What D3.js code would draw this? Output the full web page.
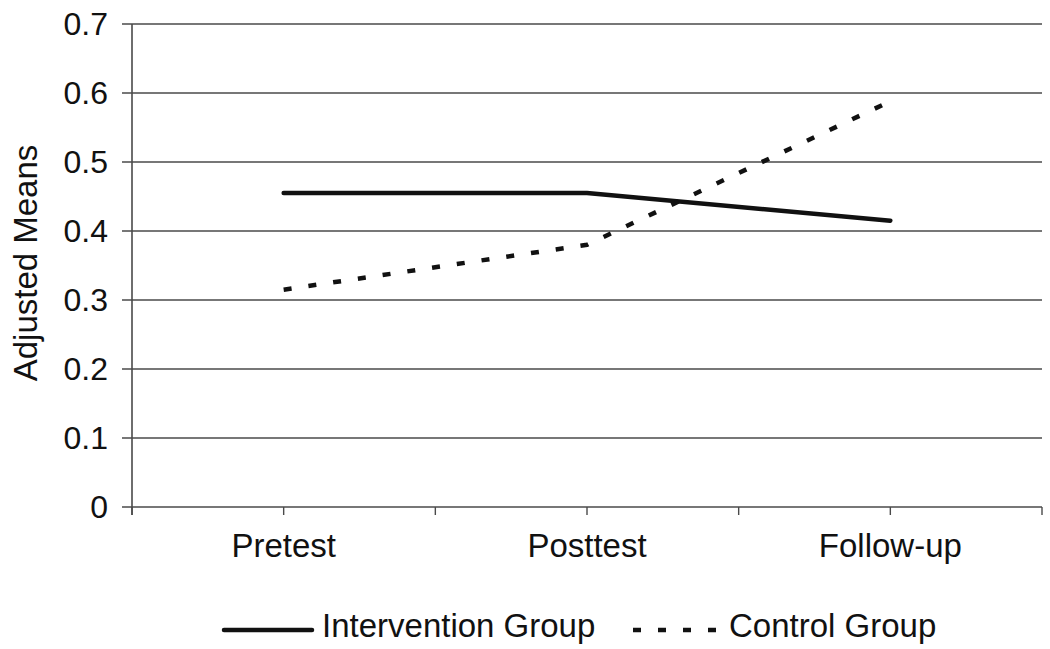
<!DOCTYPE html>
<html><head><meta charset="utf-8">
<script src="https://cdn.jsdelivr.net/npm/d3@7"></script>
<style>body{margin:0;background:#fff}svg{display:block}text{font-family:"Liberation Sans",Arial,sans-serif;fill:#111}</style>
</head><body><svg id="c" width="1050" height="649"></svg>
<script>
const categories = ["Pretest", "Posttest", "Follow-up"];
const intervention = [0.455, 0.455, 0.415];
const control = [0.315, 0.38, 0.588];
const yTicks = [0, 0.1, 0.2, 0.3, 0.4, 0.5, 0.6, 0.7];
const seriesNames = ["Intervention Group", "Control Group"];

const svg = d3.select("#c");
const L = 132, R = 1042, T = 24, B = 507;
const y = d3.scaleLinear().domain([0, 0.7]).range([B, T]);
const xb = d3.scaleBand().domain(categories).range([L, R]).paddingInner(0).paddingOuter(0);
const cx = c => xb(c) + xb.bandwidth() / 2;

const gridC = "#4a4a4a";
svg.append("g").selectAll("line").data(yTicks).join("line")
  .attr("x1", L - 10).attr("x2", R).attr("y1", d => y(d)).attr("y2", d => y(d))
  .attr("stroke", gridC).attr("stroke-width", 1.4);
svg.append("g").selectAll("text").data(yTicks).join("text")
  .attr("x", 108).attr("y", d => y(d) + 11).attr("text-anchor", "end")
  .attr("font-size", 32).text(d => d === 0 ? "0" : d3.format(".1f")(d));
svg.append("line").attr("x1", L).attr("x2", L).attr("y1", T).attr("y2", B + 8)
  .attr("stroke", gridC).attr("stroke-width", 1.6);
const xt = d3.scaleLinear().domain([0, 6]).range([L, R]);
svg.append("g").selectAll("line").data(d3.range(0, 7)).join("line")
  .attr("x1", d => xt(d)).attr("x2", d => xt(d)).attr("y1", B).attr("y2", B + 8)
  .attr("stroke", gridC).attr("stroke-width", 1.4);
svg.append("g").selectAll("text").data(categories).join("text")
  .attr("x", d => cx(d)).attr("y", 557).attr("text-anchor", "middle")
  .attr("font-size", 33).text(d => d);

svg.append("text").attr("transform", "translate(37,263) rotate(-90)")
  .attr("text-anchor", "middle").attr("font-size", 33).text("Adjusted Means");

const line = d3.line().x((d, i) => cx(categories[i])).y(d => y(d));
svg.append("path").attr("d", line(intervention)).attr("fill", "none")
  .attr("stroke", "#111").attr("stroke-width", 4.5).attr("stroke-linecap", "round");
svg.append("path").attr("d", line(control)).attr("fill", "none")
  .attr("stroke", "#111").attr("stroke-width", 4.5).attr("stroke-dasharray", "8,17");

const lg = svg.append("g");
lg.append("line").attr("x1", 224).attr("x2", 312).attr("y1", 630).attr("y2", 630)
  .attr("stroke", "#111").attr("stroke-width", 4.5).attr("stroke-linecap", "round");
lg.append("text").attr("x", 322).attr("y", 637).attr("font-size", 33).text(seriesNames[0]);
lg.append("line").attr("x1", 633).attr("x2", 718).attr("y1", 630).attr("y2", 630)
  .attr("stroke", "#111").attr("stroke-width", 4.5).attr("stroke-dasharray", "8,17");
lg.append("text").attr("x", 729).attr("y", 637).attr("font-size", 33).text(seriesNames[1]);
</script></body></html>
